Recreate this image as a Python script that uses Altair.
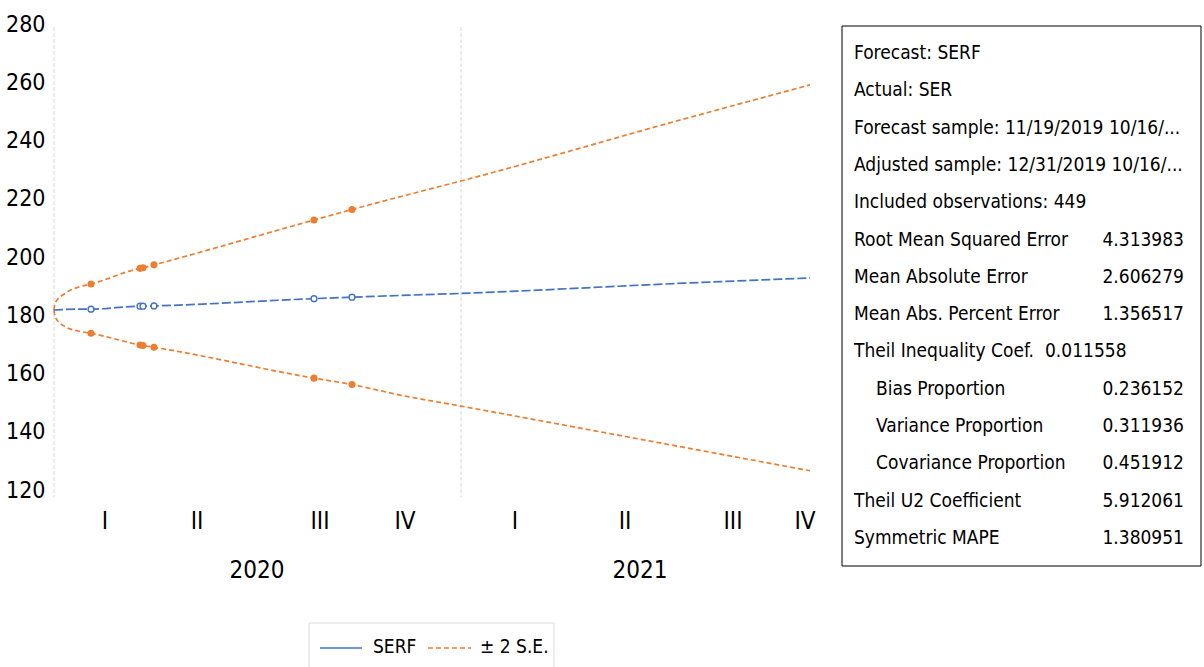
import altair as alt
import pandas as pd

FONT = "Liberation Sans Narrow, DejaVu Sans Condensed, sans-serif"
BLUE = "#4472C4"
ORANGE = "#ED7D31"

# Forecast path (observation index within the forecast sample)
obs = [0, 1, 11, 24, 37, 86, 89, 100, 260, 298, 346, 407, 629, 756]
serf = [181.8, 181.8, 182.0, 182.1, 182.1, 183.1, 183.1, 183.2, 185.7, 186.2, 186.8, 187.5, 191.0, 192.8]
upper = [181.8, 184.1, 187.5, 189.6, 190.7, 196.1, 196.3, 197.3, 212.7, 216.3, 220.7, 226.1, 247.3, 259.1]
lower = [181.8, 179.5, 176.1, 174.6, 173.8, 169.8, 169.6, 169.0, 158.4, 156.2, 152.6, 148.8, 134.7, 126.6]
# observations drawn with a marker
marked = [37, 86, 89, 100, 260, 298]

y_ticks = [120, 140, 160, 180, 200, 220, 240, 260, 280]

quarter_labels = ["I", "II", "III", "IV", "I", "II", "III", "IV"]
quarter_obs = [51, 143, 266, 351, 461, 571, 679, 751]
year_labels = ["2020", "2021"]
year_obs = [203, 586]
year_breaks = [0, 407]

stat_names = [
    "Forecast: SERF",
    "Actual: SER",
    "Forecast sample: 11/19/2019 10/16/...",
    "Adjusted sample: 12/31/2019 10/16/...",
    "Included observations: 449",
    "Root Mean Squared Error",
    "Mean Absolute Error",
    "Mean Abs. Percent Error",
    "Theil Inequality Coef.",
    "Bias Proportion",
    "Variance Proportion",
    "Covariance Proportion",
    "Theil U2 Coefficient",
    "Symmetric MAPE",
]
stat_values = ["", "", "", "", "", "4.313983", "2.606279", "1.356517",
               "0.011558", "0.236152", "0.311936", "0.451912", "5.912061", "1.380951"]
stat_indent = [0, 0, 0, 0, 0, 0, 0, 0, 0, 1, 1, 1, 0, 0]

W, H = 756, 466
LEFT, TOP = 54, 24

rows = []
for name, vals in (("SERF", serf), ("upper", upper), ("lower", lower)):
    for o, v in zip(obs, vals):
        rows.append({"series": name, "obs": o, "value": v, "marked": 1 if o in marked else 0})
df = pd.DataFrame(rows)

x_scale = alt.Scale(domain=[0, 756], nice=False, zero=False)
x_enc = alt.X("obs:Q", scale=x_scale, axis=None)
y_enc = alt.Y(
    "value:Q",
    scale=alt.Scale(domain=[120, 280], nice=False, zero=False),
    axis=alt.Axis(values=y_ticks, labelFontSize=23, labelFont=FONT, labelColor="black",
                  ticks=False, domain=False, grid=False, labelPadding=9, title=None),
)

base = alt.Chart(df).encode(x=x_enc, y=y_enc)

gridlines = alt.Chart(pd.DataFrame({"obs": year_breaks})).mark_rule(
    stroke="#D9D9D9", strokeDash=[4, 2], strokeWidth=1
).encode(x=x_enc, y=alt.value(3), y2=alt.value(473))

bands = base.transform_filter(alt.datum.series != "SERF").mark_line(
    color=ORANGE, strokeDash=[5, 3], strokeWidth=1.7, interpolate="monotone"
).encode(detail="series:N")

center = base.transform_filter(alt.datum.series == "SERF").mark_line(
    color=BLUE, strokeDash=[9, 3], strokeWidth=1.7, interpolate="monotone"
)

band_pts = base.transform_filter(
    (alt.datum.series != "SERF") & (alt.datum.marked == 1)
).mark_circle(color=ORANGE, size=50, opacity=1)

center_pts = base.transform_filter(
    (alt.datum.series == "SERF") & (alt.datum.marked == 1)
).mark_circle(fill="white", stroke=BLUE, strokeWidth=1.4, size=34, opacity=1)

quarters = alt.Chart(pd.DataFrame({"obs": quarter_obs, "label": quarter_labels})).mark_text(
    font=FONT, fontSize=24, color="black", baseline="middle", align="center"
).encode(x=x_enc, y=alt.value(498), text="label:N")

years = alt.Chart(pd.DataFrame({"obs": year_obs, "label": year_labels})).mark_text(
    font=FONT, fontSize=24, color="black", baseline="middle", align="center"
).encode(x=x_enc, y=alt.value(547), text="label:N")

one = pd.DataFrame({"k": [0]})

# statistics panel
panel = [alt.Chart(one).mark_rect(fill="white", stroke="black", strokeWidth=1).encode(
    x=alt.value(842 - LEFT), x2=alt.value(1201 - LEFT),
    y=alt.value(26 - TOP), y2=alt.value(566 - TOP))]
row_gap = 37.3
for i, (name, val, ind) in enumerate(zip(stat_names, stat_values, stat_indent)):
    ypos = 53 - TOP + i * row_gap
    panel.append(alt.Chart(one).mark_text(
        text=name, font=FONT, fontSize=19, color="black", align="left", baseline="middle"
    ).encode(x=alt.value(854 - LEFT + (22 if ind else 0)), y=alt.value(ypos)))
    if val:
        if name.startswith("Theil Inequality"):
            panel.append(alt.Chart(one).mark_text(
                text=val, font=FONT, fontSize=19, color="black", align="left", baseline="middle"
            ).encode(x=alt.value(1045 - LEFT), y=alt.value(ypos)))
        else:
            panel.append(alt.Chart(one).mark_text(
                text=val, font=FONT, fontSize=19, color="black", align="right", baseline="middle"
            ).encode(x=alt.value(1184 - LEFT), y=alt.value(ypos)))

# legend
legend = [
    alt.Chart(one).mark_rect(fill="white", stroke="#D9D9D9", strokeWidth=1).encode(
        x=alt.value(309 - LEFT), x2=alt.value(554 - LEFT),
        y=alt.value(623 - TOP), y2=alt.value(700 - TOP)),
    alt.Chart(one).mark_rule(color=BLUE, strokeWidth=1.5).encode(
        x=alt.value(320 - LEFT), x2=alt.value(362 - LEFT), y=alt.value(648 - TOP)),
    alt.Chart(one).mark_rule(color=ORANGE, strokeWidth=1.5, strokeDash=[5, 3]).encode(
        x=alt.value(428 - LEFT), x2=alt.value(471 - LEFT), y=alt.value(648 - TOP)),
    alt.Chart(one).mark_text(text="SERF", font=FONT, fontSize=19, color="black",
                             align="left", baseline="middle").encode(
        x=alt.value(373 - LEFT), y=alt.value(647 - TOP)),
    alt.Chart(one).mark_text(text="± 2 S.E.", font=FONT, fontSize=19, color="black",
                             align="left", baseline="middle").encode(
        x=alt.value(480 - LEFT), y=alt.value(647 - TOP)),
]

chart = alt.layer(
    gridlines, bands, center, band_pts, center_pts, quarters, years, *panel, *legend
).properties(
    width=W, height=H,
    autosize=alt.AutoSizeParams(type="none"),
    padding={"left": LEFT, "top": TOP, "right": 1204 - LEFT - W, "bottom": 667 - TOP - H},
    background="white",
).configure_view(stroke=None)

chart.save("out.html", embed_options={"renderer": "svg", "actions": False})
